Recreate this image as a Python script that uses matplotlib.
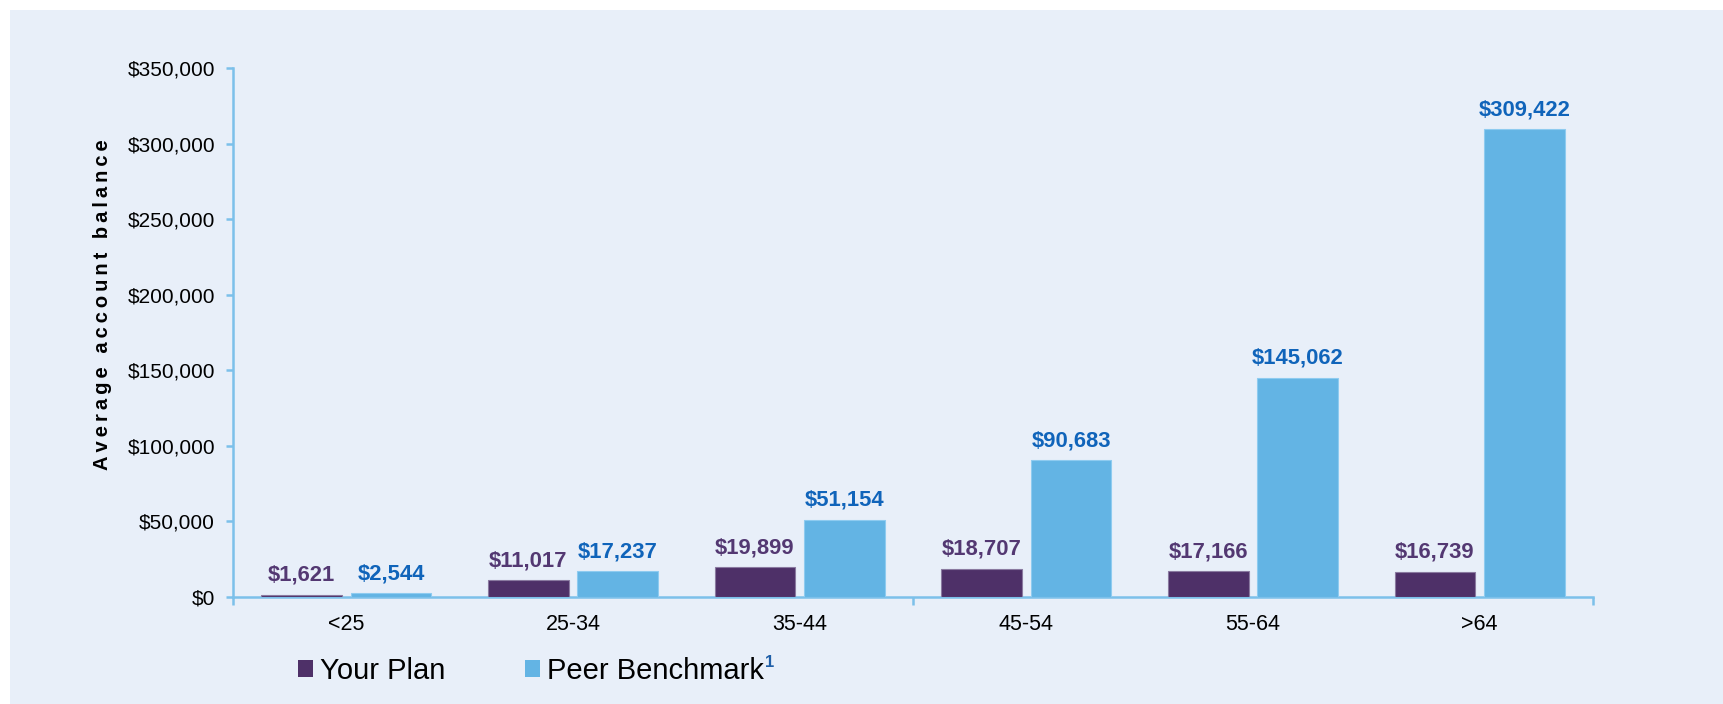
import matplotlib
matplotlib.use("Agg")
import matplotlib.pyplot as plt
from matplotlib.patches import Patch, Rectangle
from matplotlib.ticker import FuncFormatter
import numpy as np

# data
age_groups = ["<25", "25-34", "35-44", "45-54", "55-64", ">64"]
your_plan = [1621, 11017, 19899, 18707, 17166, 16739]
peer_benchmark = [2544, 17237, 51154, 90683, 145062, 309422]
y_ticks = [0, 50000, 100000, 150000, 200000, 250000, 300000, 350000]

# styling
PANEL = "#E8EFF9"
PURPLE = "#4E3068"
BLUE = "#63B4E4"
PURPLE_TXT = "#533872"
BLUE_TXT = "#1064BA"
AXIS = "#7CC0EA"

plt.rcParams["font.family"] = ["Liberation Sans", "DejaVu Sans"]

W, H = 1723, 704
fig = plt.figure(figsize=(W / 100, H / 100), dpi=100, facecolor="white")
fig.patches.append(Rectangle((10 / W, 0), 1, 1 - 10 / H, transform=fig.transFigure,
                             facecolor=PANEL, edgecolor="none", zorder=-10))

ax = fig.add_axes([233 / W, (H - 597) / H, 1360 / W, 529 / H])
ax.set_facecolor("none")

x = np.arange(len(age_groups))
bw = 0.357
off = 0.197
ax.bar(x - off, your_plan, bw, color=PURPLE, edgecolor="#8a7aa0", linewidth=0.8, zorder=3)
ax.bar(x + off, peer_benchmark, bw, color=BLUE, edgecolor="#8ecbf0", linewidth=0.8, zorder=3)

for xi, v in zip(x, your_plan):
    ax.annotate(f"${v:,}", (xi - off, v), xytext=(0, 10), textcoords="offset points",
                ha="center", va="baseline", fontsize=15.8, fontweight="bold", color=PURPLE_TXT)
for xi, v in zip(x, peer_benchmark):
    ax.annotate(f"${v:,}", (xi + off, v), xytext=(0, 10), textcoords="offset points",
                ha="center", va="baseline", fontsize=15.8, fontweight="bold", color=BLUE_TXT)

ax.set_xlim(-0.5, len(age_groups) - 0.5)
ax.set_ylim(0, 350000)
ax.set_yticks(y_ticks)
ax.yaxis.set_major_formatter(FuncFormatter(lambda v, p: f"${v:,.0f}"))
ax.set_xticks(x)
ax.set_xticklabels(age_groups)
ax.set_xticks([-0.5, 2.5, 5.5], minor=True)

for side in ["top", "right"]:
    ax.spines[side].set_visible(False)
for side in ["left", "bottom"]:
    ax.spines[side].set_color(AXIS)
    ax.spines[side].set_linewidth(1.8)

ax.tick_params(axis="y", direction="out", length=5, width=1.8, color=AXIS,
               labelsize=15, labelcolor="black", pad=8)
ax.tick_params(axis="x", which="major", length=0, labelsize=15.5, labelcolor="black", pad=12)
ax.tick_params(axis="x", which="minor", direction="out", length=6, width=1.8, color=AXIS)

# y-axis title, letter spaced with thin spaces
title = "Average account balance"
spaced = "\u2009".join(title)
fig.text(103 / W, 1 - 305 / H, spaced, rotation=90, ha="center", va="center",
         fontsize=14.5, fontweight="bold", color="black")

# legend
handles = [Patch(facecolor=PURPLE, edgecolor="none"), Patch(facecolor=BLUE, edgecolor="none")]
leg = fig.legend(handles, ["Your Plan", "Peer Benchmark"], loc="center left",
                 bbox_to_anchor=(298 / W, 1 - 671 / H), ncol=2, frameon=False,
                 fontsize=21, handlelength=0.52, handleheight=0.52, handletextpad=0.25,
                 columnspacing=2.7, borderaxespad=0, borderpad=0)

fig.canvas.draw()
bb = leg.get_texts()[1].get_window_extent()
x1, y1 = fig.transFigure.inverted().transform((bb.x1, bb.y1))
fig.text(x1 + 1 / W, y1 + 2 / H, "1", fontsize=12, fontweight="bold", color="#1F5FA8",
         ha="left", va="top")

fig.savefig("out.png", dpi=100, facecolor="white")
